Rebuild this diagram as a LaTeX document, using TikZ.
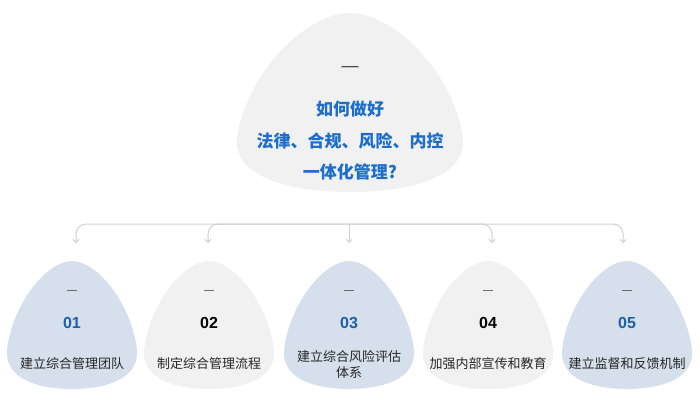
\documentclass[tikz,border=0pt]{standalone}
\usepackage{fontspec}
\setmainfont{Liberation Sans}
\newfontfamily\cjk{Noto Sans CJK SC}
\usetikzlibrary{arrows.meta,positioning,calc}

\definecolor{dropgray}{HTML}{F1F1F1}
\definecolor{dropblue}{HTML}{D5E0EC}
\definecolor{qblue}{HTML}{1C6DCC}
\definecolor{numblue}{HTML}{1F5FA8}
\definecolor{linegray}{HTML}{CFCFCF}

% rounded triangle: centre x, top y, bottom y, half width, fill
\newcommand{\tear}[5]{%
  \pgfmathsetmacro\tym{#2+0.7*(#3-#2)}%
  \pgfmathsetmacro\tca{#2+0.35*(#3-#2)}%
  \pgfmathsetmacro\tcb{#2+0.9*(#3-#2)}%
  \fill[#5] (#1,#2) .. controls ({#1+0.4*#4},#2) and ({#1+0.93*#4},\tca) .. ({#1+#4},\tym)
    .. controls ({#1+1.03*#4},\tcb) and ({#1+0.6*#4},#3) .. (#1,#3)
    .. controls ({#1-0.6*#4},#3) and ({#1-1.03*#4},\tcb) .. ({#1-#4},\tym)
    .. controls ({#1-0.93*#4},\tca) and ({#1-0.4*#4},#2) .. cycle;%
}

\tikzset{
  dashmark/.style={text=black!80, inner sep=0pt},
  question/.style={text=qblue, align=center, inner sep=0pt,
    font=\cjk\bfseries\fontsize{17}{31.5}\selectfont},
  numtext/.style={inner sep=0pt, font=\bfseries\fontsize{16}{18}\selectfont},
  steptext/.style={text=black!85, align=center, inner sep=0pt,
    font=\cjk\fontsize{13}{16}\selectfont},
  conn/.style={draw=linegray, line width=1pt, rounded corners=10pt,
    -{Straight Barb[length=3pt,width=6pt]}}
}

\begin{document}
\begin{tikzpicture}[x=1pt, y=-1pt]
  \useasboundingbox (0,0) rectangle (700,407);

  % top question
  \tear{350}{13}{192}{113}{dropgray}
  \node[dashmark, font=\fontsize{17}{17}\selectfont] (d0) at (350,69) {—};
  \node[question] (q) at (350,141) {如何做好\\法律、合规、风险、内控\\一体化管理?};

  % connectors
  \coordinate (hub) at (349,224);
  \coordinate (a1) at (76,243);
  \coordinate (a2) at (208,243);
  \coordinate (a3) at (349,243);
  \coordinate (a4) at (492,243);
  \coordinate (a5) at (623,243);
  \draw[conn] (hub) -| (a1);
  \draw[conn] (hub) -| (a2);
  \draw[conn] (hub) -- (a3);
  \draw[conn] (hub) -| (a4);
  \draw[conn] (hub) -| (a5);

  % five steps
  \foreach \i/\x/\fillc/\numc/\lbl in {
      1/72/dropblue/numblue/{建立综合管理团队},
      2/209/dropgray/black/{制定综合管理流程},
      3/349/dropblue/numblue/{建立综合风险评估\\体系},
      4/488/dropgray/black/{加强内部宣传和教育},
      5/627/dropblue/numblue/{建立监督和反馈机制}}{
    \tear{\x}{261}{389}{65}{\fillc}
    \node[dashmark, font=\fontsize{10}{10}\selectfont] (d\i) at (\x,292) {—};
    \node[numtext, text=\numc] (n\i) at (\x,323) {0\i};
    \node[steptext] (s\i) at (\x,364) {\lbl};
  }
\end{tikzpicture}
\end{document}
